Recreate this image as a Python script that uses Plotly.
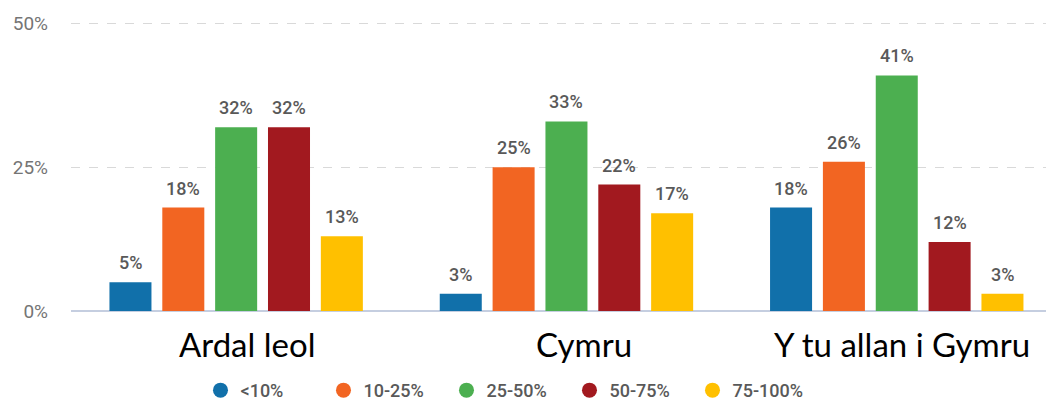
import plotly.graph_objects as go

categories = ["Ardal leol", "Cymru", "Y tu allan i Gymru"]
series_names = ["<10%", "10-25%", "25-50%", "50-75%", "75-100%"]
series_values = {
    "<10%": [5, 3, 18],
    "10-25%": [18, 25, 26],
    "25-50%": [32, 33, 41],
    "50-75%": [32, 22, 12],
    "75-100%": [13, 17, 3],
}
colors = ["#1170AA", "#F26522", "#4CAF50", "#A2191F", "#FFC000"]
y_ticks = [0, 25, 50]
y_tick_labels = ["0%", "25%", "50%"]
label_shifts = [11, 18, 5]

BARGAP = 0.2
GROUPGAP = 0.205
n = len(series_names)

fig = go.Figure()
for name, col in zip(series_names, colors):
    fig.add_trace(go.Bar(
        x=categories, y=series_values[name], name=name,
        marker=dict(color=col, line=dict(width=0)),
        showlegend=False, hoverinfo="x+y+name",
    ))
for name, col in zip(series_names, colors):
    fig.add_trace(go.Scatter(
        x=[None], y=[None], mode="markers", name=name,
        marker=dict(color=col, size=15, symbol="circle"),
    ))

# value labels above bars
slot = (1 - BARGAP) / n
for i, name in enumerate(series_names):
    for j, v in enumerate(series_values[name]):
        fig.add_annotation(x=j + (i - (n - 1) / 2) * slot, y=v, xref="x", yref="y",
                           yanchor="bottom", yshift=7, text=f"{v}%", showarrow=False,
                           font=dict(family="Roboto", size=18, color="#595959", weight=500))

for j, (cat, sh) in enumerate(zip(categories, label_shifts)):
    fig.add_annotation(x=j, y=0, xref="x", yref="paper", yanchor="top",
                       yshift=-11, xshift=sh, text=cat, showarrow=False,
                       font=dict(family="Lato", size=33, color="#000000"))

fig.update_layout(
    width=1046, height=397,
    margin=dict(l=63, r=2, t=10, b=94, autoexpand=False),
    plot_bgcolor="white", paper_bgcolor="white",
    barmode="group", bargap=BARGAP, bargroupgap=GROUPGAP,
    showlegend=True,
    legend=dict(orientation="h", x=0.132, xanchor="left", y=-0.208, yanchor="top",
                font=dict(family="Roboto", size=18, color="#595959", weight=500),
                entrywidth=78, itemwidth=30),
    xaxis=dict(range=[-0.5, 2.47], showticklabels=False, showgrid=False,
               zeroline=False, showline=False, ticks=""),
    yaxis=dict(range=[0, 51], tickvals=y_ticks, ticktext=y_tick_labels,
               tickfont=dict(family="Roboto", size=19, color="#757575"),
               showgrid=True, gridcolor="#D9D9D9", griddash="dash",
               zeroline=True, zerolinecolor="#C5CEE0", zerolinewidth=2,
               ticks="", ticklabelstandoff=22, automargin=False),
)
fig.write_html("out.html")
